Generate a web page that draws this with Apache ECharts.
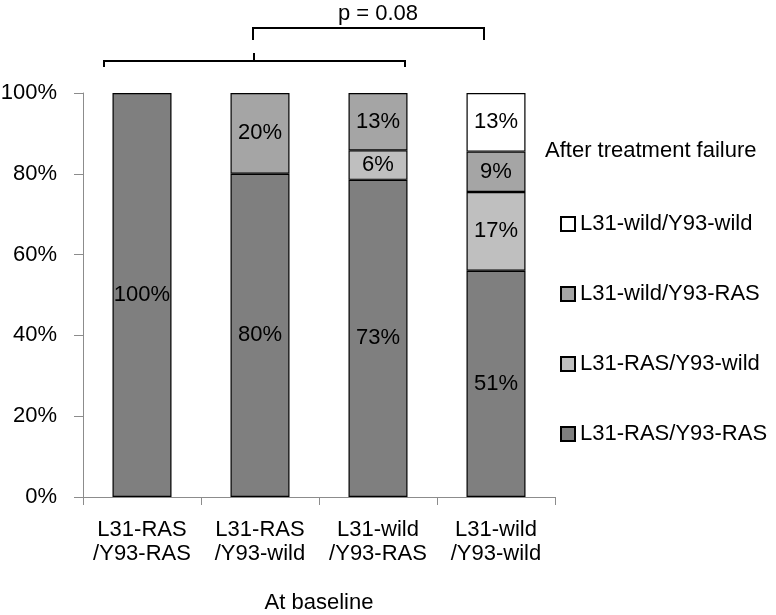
<!DOCTYPE html>
<html>
<head>
<meta charset="utf-8">
<script src="https://cdn.jsdelivr.net/npm/echarts@6/dist/echarts.min.js"></script>
<style>html,body{margin:0;padding:0;background:#fff;}#c{width:776px;height:615px;}</style>
</head>
<body>
<div id="c"></div>
<script>
const categories = ['L31-RAS\n/Y93-RAS', 'L31-RAS\n/Y93-wild', 'L31-wild\n/Y93-RAS', 'L31-wild\n/Y93-wild'];
const seriesNames = ['L31-RAS/Y93-RAS', 'L31-RAS/Y93-wild', 'L31-wild/Y93-RAS', 'L31-wild/Y93-wild'];
const rasRas = [100, 80, 78.5, 56];
const rasWild = [null, null, 7.3, 19.5];
const wildRas = [null, 20, 14.2, 10];
const wildWild = [null, null, null, 14.5];
const labRasRas = ['100%', '80%', '73%', '51%'];
const labRasWild = ['', '', '6%', '17%'];
const labWildRas = ['', '20%', '13%', '9%'];
const labWildWild = ['', '', '', '13%'];
const yTicks = [0, 20, 40, 60, 80, 100];
const pText = 'p = 0.08';
const legendTitle = 'After treatment failure';
const xTitle = 'At baseline';

const colors = ['#7f7f7f', '#bfbfbf', '#a5a5a5', '#ffffff'];
const values = [rasRas, rasWild, wildRas, wildWild];
const labels = [labRasRas, labRasWild, labWildRas, labWildWild];
const FONT = 'Liberation Sans, Arial, sans-serif';
const FS = 22;

const chart = echarts.init(document.getElementById('c'));
chart.setOption({
  animation: false,
  backgroundColor: '#fff',
  textStyle: { fontFamily: FONT },
  title: {
    text: legendTitle,
    left: 540, top: 135,
    textStyle: { fontSize: FS, fontWeight: 'normal', color: '#000', fontFamily: FONT }
  },
  legend: {
    orient: 'vertical',
    left: 555, top: 207,
    data: seriesNames.slice().reverse(),
    icon: 'rect',
    itemWidth: 14, itemHeight: 14,
    itemGap: 46,
    textStyle: { fontSize: FS, color: '#000', fontFamily: FONT, lineHeight: 24 },
    selectedMode: false
  },
  grid: { left: 83, right: 221, top: 93, bottom: 118, containLabel: false, outerBoundsMode: 'none' },
  xAxis: {
    type: 'category',
    data: categories,
    name: xTitle,
    nameLocation: 'middle',
    nameGap: 95,
    nameTextStyle: { fontSize: FS, color: '#000', fontFamily: FONT },
    axisLine: { lineStyle: { color: '#8c8c8c', width: 1 } },
    axisTick: { show: true, length: 8, alignWithLabel: false, lineStyle: { color: '#8c8c8c' } },
    axisLabel: { interval: 0, fontSize: FS, color: '#000', margin: 21, lineHeight: 24, fontFamily: FONT }
  },
  yAxis: {
    type: 'value',
    min: 0, max: 100, interval: 20,
    axisLine: { show: true, lineStyle: { color: '#8c8c8c', width: 1 } },
    axisTick: { show: true, length: 9, lineStyle: { color: '#8c8c8c' } },
    splitLine: { show: false },
    axisLabel: { fontSize: FS, color: '#000', margin: 26, fontFamily: FONT,
      formatter: v => yTicks.indexOf(v) >= 0 ? v + '%' : '' }
  },
  series: values.map((vals, i) => ({
    name: seriesNames[i],
    type: 'bar',
    stack: 'total',
    barWidth: '50%',
    data: vals,
    itemStyle: { color: colors[i], borderColor: '#000', borderWidth: 1.2 },
    label: {
      show: true,
      position: 'inside',
      fontSize: FS,
      color: '#000',
      fontFamily: FONT,
      formatter: p => labels[i][p.dataIndex]
    },
    emphasis: { disabled: true }
  })),
  graphic: [
    { type: 'polyline', shape: { points: [[104, 67], [104, 61], [405, 61], [405, 67]] },
      style: { stroke: '#000', lineWidth: 2, fill: null } },
    { type: 'line', shape: { x1: 254, y1: 61, x2: 254, y2: 53 },
      style: { stroke: '#000', lineWidth: 2 } },
    { type: 'polyline', shape: { points: [[253, 40], [253, 28], [484, 28], [484, 40]] },
      style: { stroke: '#000', lineWidth: 2, fill: null } },
    { type: 'text', x: 378, y: 14,
      style: { text: pText, fontSize: FS, fill: '#000', fontFamily: FONT, align: 'center', verticalAlign: 'middle' } }
  ]
});
</script>
</body>
</html>
